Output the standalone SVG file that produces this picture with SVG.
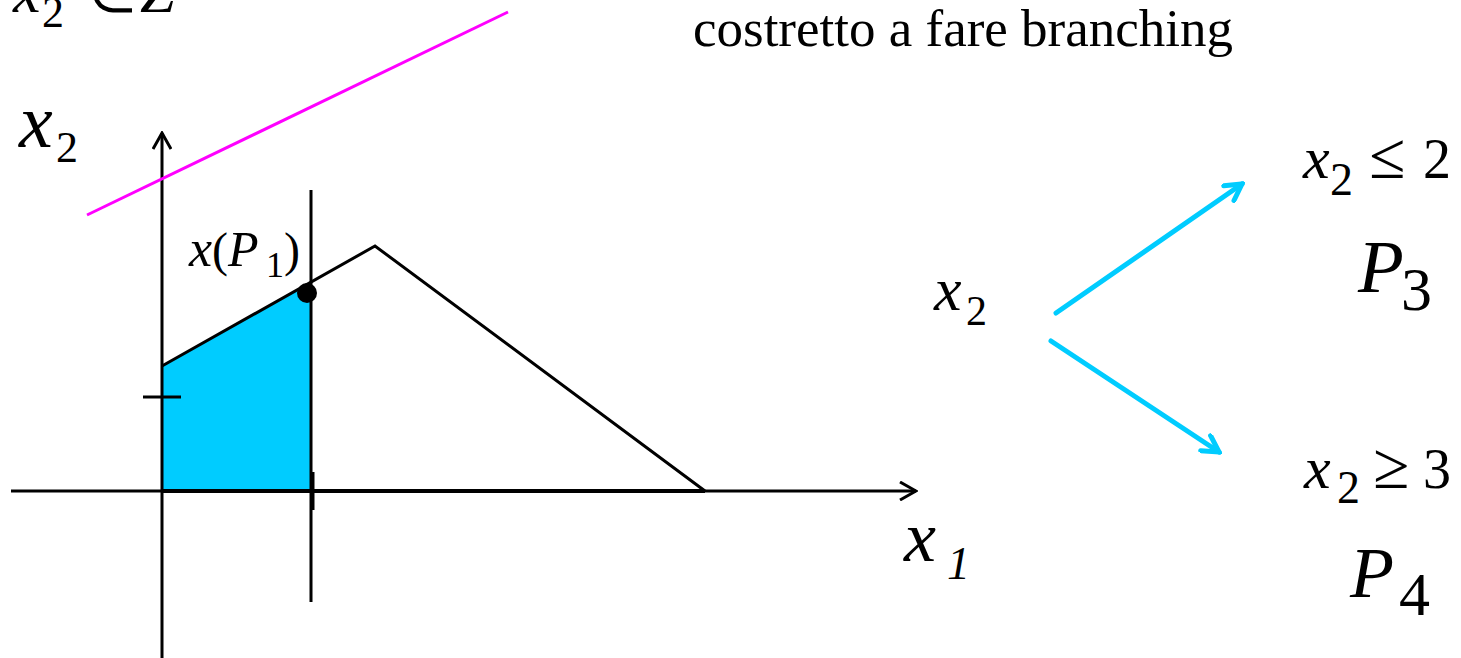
<svg xmlns="http://www.w3.org/2000/svg" width="1461" height="658" viewBox="0 0 1461 658">
<style>
.m{font-family:"Liberation Serif","Times New Roman",serif;font-style:italic;fill:#000}
.u{font-family:"Liberation Serif","Times New Roman",serif;font-style:normal;fill:#000}
.ln{stroke:#000;stroke-width:3;fill:none}
.cy{stroke:#00CCFF;stroke-width:5;fill:none;stroke-linecap:round}
</style>
<defs>
<marker id="ah" viewBox="0 0 20 20" refX="18" refY="10" markerWidth="20" markerHeight="20" markerUnits="userSpaceOnUse" orient="auto">
<path d="M2,1 L18,10 L2,19" fill="none" stroke="#000" stroke-width="3"/>
</marker>
<marker id="ahc" viewBox="0 0 22 22" refX="19" refY="11" markerWidth="22" markerHeight="22" markerUnits="userSpaceOnUse" orient="auto">
<path d="M3,2 L19,11 L3,20" fill="none" stroke="#00CCFF" stroke-width="5" stroke-linecap="round"/>
</marker>
</defs>
<rect width="1461" height="658" fill="#fff"/>
<g id="feasible-region">
<polygon points="162,366 311,282 311,491 162,491" fill="#00CCFF"/>
<polyline class="ln" points="162,366 375,246 705,491"/>
<line x1="162" y1="491" x2="705" y2="491" stroke="#000" stroke-width="4"/>
</g>
<g id="axes">
<line x1="11" y1="491" x2="916" y2="491" class="ln" marker-end="url(#ah)"/>
<line x1="162" y1="658" x2="162" y2="133" class="ln" marker-end="url(#ah)"/>
<line x1="143" y1="397" x2="181" y2="397" stroke="#000" stroke-width="3"/>
<line x1="313" y1="472" x2="313" y2="510" stroke="#000" stroke-width="3"/>
</g>
<g id="branch-line">
<line x1="311" y1="190" x2="311" y2="602" class="ln"/>
</g>
<g id="cut-line">
<line x1="87" y1="215" x2="508" y2="12" stroke="#FF00FF" stroke-width="3"/>
</g>
<g id="point-P1">
<circle cx="307" cy="293" r="10" fill="#000"/>
<text x="189" y="266" class="m" font-size="52">x</text>
<text x="212" y="266" class="u" font-size="48">(</text>
<text x="228" y="266" class="m" font-size="50">P</text>
<text x="266" y="277" class="u" font-size="36">1</text>
<text x="284" y="266" class="u" font-size="48">)</text>
</g>
<g id="labels">
<text x="13" y="12" class="m" font-size="62">x</text>
<text x="42" y="27" class="u" font-size="44">2</text>
<text x="88" y="12" class="u" font-size="56">∈</text>
<text x="140" y="12" class="m" font-size="62">Z</text>
<text x="19" y="147" class="m" font-size="76">x</text>
<text x="56" y="162" class="u" font-size="44">2</text>
<text x="904" y="561" class="m" font-size="72">x</text>
<text x="947" y="579" class="m" font-size="46">1</text>
<text x="693" y="46" class="u" font-size="53">costretto a fare branching</text>
</g>
<g id="node-x2">
<text x="934" y="310" class="m" font-size="62">x</text>
<text x="966" y="325" class="u" font-size="42">2</text>
</g>
<g id="node-P3">
<text x="1303" y="178" class="m" font-size="60">x</text>
<text x="1330" y="195" class="u" font-size="46">2</text>
<text x="1369" y="178" class="u" font-size="66">≤</text>
<text x="1423" y="178" class="u" font-size="56">2</text>
<text x="1358" y="292" class="m" font-size="75">P</text>
<text x="1401" y="310" class="u" font-size="62">3</text>
</g>
<g id="node-P4">
<text x="1304" y="488" class="m" font-size="60">x</text>
<text x="1337" y="503" class="u" font-size="46">2</text>
<text x="1373" y="488" class="u" font-size="66">≥</text>
<text x="1423" y="488" class="u" font-size="56">3</text>
<text x="1350" y="597" class="m" font-size="72">P</text>
<text x="1399" y="615" class="u" font-size="62">4</text>
</g>
<g id="connectors">
<line x1="1056" y1="313" x2="1242" y2="184" class="cy" marker-end="url(#ahc)"/>
<line x1="1051" y1="341" x2="1219" y2="452" class="cy" marker-end="url(#ahc)"/>
</g>
</svg>
